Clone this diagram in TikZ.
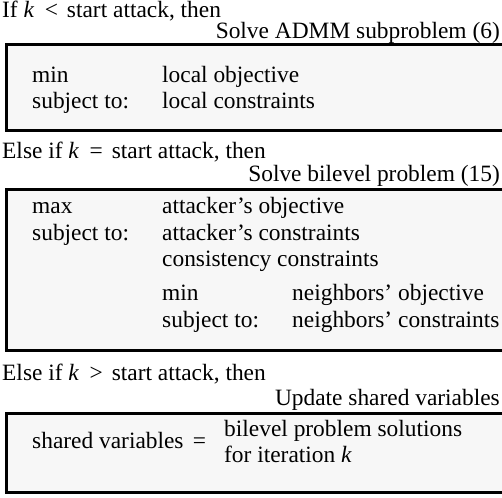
\documentclass[tikz,border=0pt]{standalone}
\usepackage{fontspec}
\setmainfont{Liberation Serif}
\newcommand{\relgap}[1]{\hspace{0.45em}#1\hspace{0.38em}}
\begin{document}
\begin{tikzpicture}[x=1pt,y=-1pt,
  txt/.style={inner sep=0pt, font=\fontsize{23.4}{26}\selectfont},
  lft/.style={txt, anchor=base west},
  rgt/.style={txt, anchor=base east},
  panel/.style={draw=black, line width=3pt, fill=black!3}]
\useasboundingbox (0,0) rectangle (502,497);
\clip (0,0) rectangle (502,497);

% panels (their right sides run past the page edge)
\draw[panel] (6.5,45) rectangle (520,131);
\draw[panel] (6.5,189) rectangle (520,350);
\draw[panel] (6.5,413) rectangle (520,492.5);

% case 1: before the attack
\node[lft] (c1) at (2,18) {If \textit{k}\relgap{<}start attack, then};
\node[rgt] (t1) at (500,39) {Solve ADMM subproblem (6)};
\node[lft] (a1) at (32,83) {min};
\node[lft] (b1) at (162,83) {local objective};
\node[lft] (a2) at (32,109) {subject to:};
\node[lft] (b2) at (162,109) {local constraints};

% case 2: at the start of the attack
\node[lft] (c2) at (2,158) {Else if \textit{k}\relgap{=}start attack, then};
\node[rgt] (t2) at (500,181) {Solve bilevel problem (15)};
\node[lft] (d1) at (32,213) {max};
\node[lft] (e1) at (162,213) {attacker’s objective};
\node[lft] (d2) at (32,240) {subject to:};
\node[lft] (e2) at (162,240) {attacker’s constraints};
\node[lft] (e3) at (162,266) {consistency constraints};
\node[lft] (f1) at (162,300) {min};
\node[lft] (g1) at (292,300) {neighbors’ objective};
\node[lft] (f2) at (162,327) {subject to:};
\node[lft] (g2) at (292,327) {neighbors’ constraints};

% case 3: after the attack
\node[lft] (c3) at (2,380) {Else if \textit{k}\relgap{>}start attack, then};
\node[rgt] (t3) at (500,405) {Update shared variables};
\node[lft] (h1) at (32,448) {shared variables\hspace{0.4em}=};
\node[lft] (i1) at (224,436) {bilevel problem solutions};
\node[lft] (i2) at (224,462) {for iteration \textit{k}};
\end{tikzpicture}
\end{document}
